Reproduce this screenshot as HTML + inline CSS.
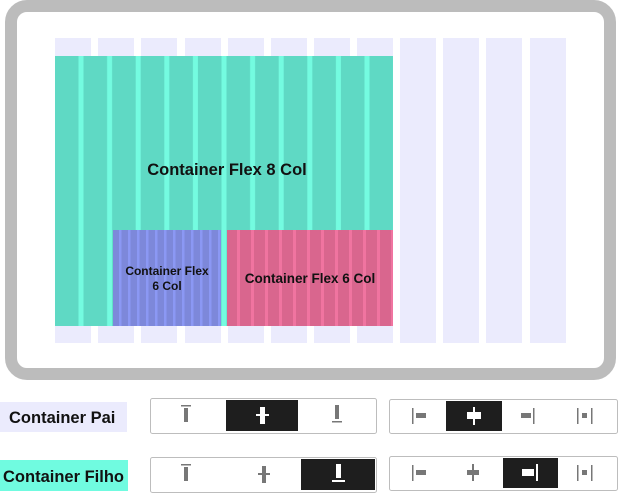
<!DOCTYPE html>
<html><head><style>
html,body{margin:0;padding:0;background:#fff;}
svg{display:block}
text{font-family:"Liberation Sans",Arial,sans-serif;font-weight:bold;fill:#111}
</style></head><body>
<svg width="621" height="496" viewBox="0 0 621 496" xmlns="http://www.w3.org/2000/svg">
<defs>
<pattern id="pg" x="55" y="0" width="28.6" height="10" patternUnits="userSpaceOnUse">
<rect width="28.6" height="10" fill="#5fd9c4"/><rect x="23.5" width="5" height="10" fill="#74fbe0"/></pattern>
<pattern id="pb" x="113" y="0" width="9" height="10" patternUnits="userSpaceOnUse">
<rect width="9" height="10" fill="#7d88da"/><rect x="6" width="2.5" height="10" fill="#8b98f4"/></pattern>
<pattern id="pp" x="227" y="0" width="14" height="10" patternUnits="userSpaceOnUse">
<rect width="14" height="10" fill="#d9668e"/><rect x="10" width="3" height="10" fill="#f074a0"/></pattern>
</defs>
<rect x="11" y="6" width="599" height="368" rx="16" fill="#fff" stroke="#bcbcbc" stroke-width="12"/>
<g fill="#ebebfd">
<rect x="55" y="38" width="36" height="305"/><rect x="98" y="38" width="36" height="305"/>
<rect x="141" y="38" width="36" height="305"/><rect x="185" y="38" width="36" height="305"/>
<rect x="228" y="38" width="36" height="305"/><rect x="271" y="38" width="36" height="305"/>
<rect x="314" y="38" width="36" height="305"/><rect x="357" y="38" width="36" height="305"/>
<rect x="400" y="38" width="36" height="305"/><rect x="443" y="38" width="36" height="305"/>
<rect x="486" y="38" width="36" height="305"/><rect x="530" y="38" width="36" height="305"/>
</g>
<rect x="55" y="56" width="338" height="270" fill="url(#pg)"/>
<rect x="113" y="230" width="108" height="96" fill="url(#pb)"/>
<rect x="227" y="230" width="166" height="96" fill="url(#pp)"/>
<text x="227" y="175" font-size="16.5" text-anchor="middle">Container Flex 8 Col</text>
<text x="167" y="275" font-size="12" text-anchor="middle">Container Flex</text>
<text x="167" y="290" font-size="12" text-anchor="middle">6 Col</text>
<text x="310" y="283" font-size="13.5" text-anchor="middle">Container Flex 6 Col</text>

<rect x="0" y="402" width="127" height="30" fill="#ebebfd"/>
<text x="9" y="423" font-size="16.5">Container Pai</text>
<rect x="0" y="460" width="128" height="31" fill="#70fbe0"/>
<text x="3" y="482" font-size="16.5">Container Filho</text>

<g fill="#fff" stroke="#bdbdbd" stroke-width="1">
<rect x="150.5" y="398.5" width="226" height="35" rx="2"/>
<rect x="389.5" y="399.5" width="228" height="34" rx="2"/>
<rect x="150.5" y="457.5" width="226" height="35" rx="2"/>
<rect x="389.5" y="456.5" width="228" height="34" rx="2"/>
</g>
<rect x="226" y="400" width="72" height="31" fill="#1e1e1e"/>
<rect x="446" y="401" width="56" height="30" fill="#1e1e1e"/>
<rect x="301" y="459" width="74" height="31" fill="#1e1e1e"/>
<rect x="503" y="458" width="55" height="30" fill="#1e1e1e"/>

<!-- row1 group1 -->
<g fill="#777">
<rect x="181" y="405" width="10" height="1.5"/><rect x="184" y="408" width="4" height="14"/>
<rect x="335" y="405" width="4" height="14"/><rect x="332" y="421" width="10" height="1.5"/>
</g>
<g fill="#fff"><rect x="260" y="407" width="5" height="17"/><rect x="256" y="414" width="13" height="2"/></g>
<!-- row2 group1 -->
<g fill="#777">
<rect x="181" y="464" width="10" height="1.5"/><rect x="184" y="467" width="4" height="14"/>
<rect x="262" y="466" width="4" height="17"/><rect x="258" y="473" width="12" height="2"/>
</g>
<g fill="#fff"><rect x="336" y="464" width="5" height="14"/><rect x="332" y="480" width="13" height="2"/></g>
<!-- row1 group2 -->
<g fill="#777">
<rect x="412" y="408" width="1.5" height="16"/><rect x="416" y="413" width="10" height="5"/>
<rect x="521" y="413" width="10" height="5"/><rect x="533" y="408" width="1.5" height="16"/>
<rect x="577" y="408" width="1.5" height="16"/><rect x="582" y="413" width="5" height="5"/><rect x="591" y="408" width="1.5" height="16"/>
</g>
<g fill="#fff"><rect x="467" y="412" width="14" height="7"/><rect x="473" y="407" width="2" height="18"/></g>
<!-- row2 group2 -->
<g fill="#777">
<rect x="412" y="465" width="1.5" height="16"/><rect x="416" y="470" width="10" height="5"/>
<rect x="467" y="470" width="12" height="5"/><rect x="472" y="464" width="2" height="17"/>
<rect x="577" y="465" width="1.5" height="16"/><rect x="582" y="470" width="5" height="5"/><rect x="591" y="465" width="1.5" height="16"/>
</g>
<g fill="#fff"><rect x="522" y="469" width="12" height="7"/><rect x="536" y="464" width="2" height="17"/></g>
</svg>
</body></html>
